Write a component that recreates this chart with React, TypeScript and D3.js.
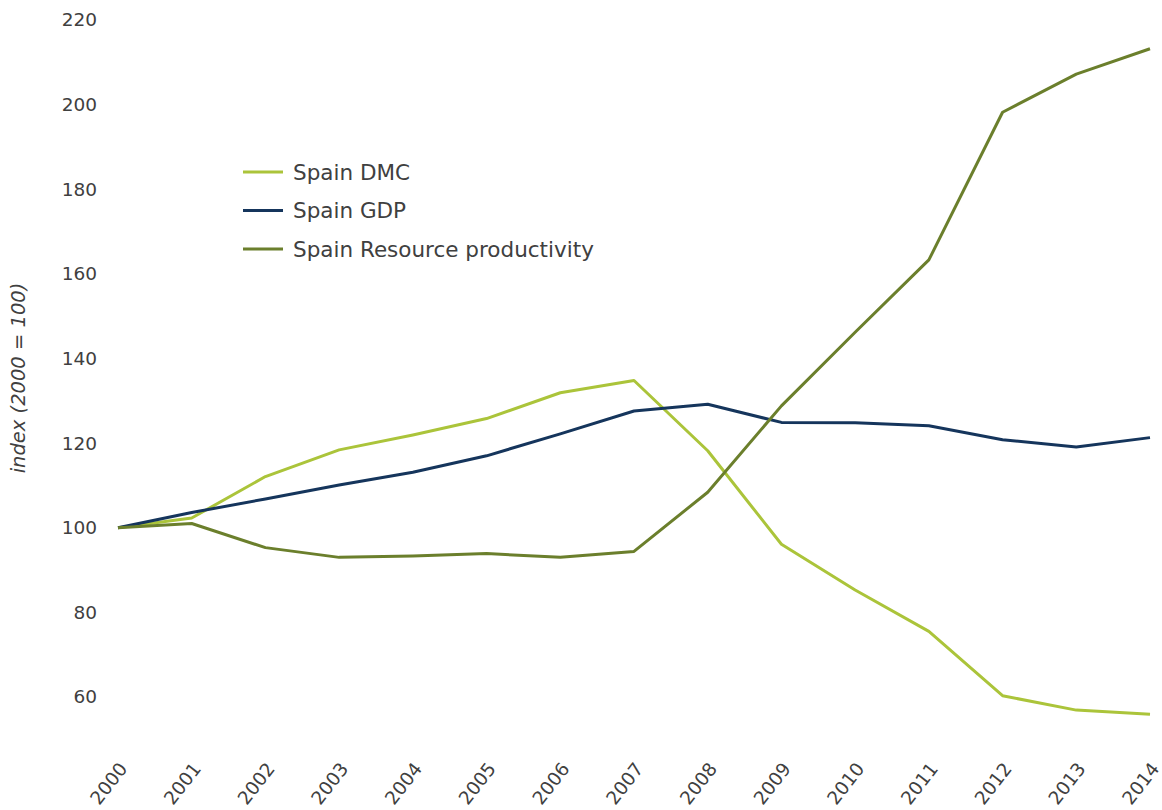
import * as d3 from 'd3';

const years = [2000, 2001, 2002, 2003, 2004, 2005, 2006, 2007, 2008, 2009, 2010, 2011, 2012, 2013, 2014];

const dmc = [100, 102.3, 112.1, 118.4, 121.9, 125.8, 131.9, 134.8, 118.2, 96.1, 85.3, 75.5, 60.3, 56.9, 55.9];
const gdp = [100, 103.6, 106.8, 110.1, 113.1, 117.0, 122.2, 127.6, 129.2, 124.9, 124.8, 124.1, 120.8, 119.1, 121.3];
const resourceProductivity = [100, 101.0, 95.3, 93.0, 93.3, 93.9, 93.0, 94.4, 108.4, 128.8, 146.2, 163.3, 198.2, 207.2, 213.2];

const yTicks = [60, 80, 100, 120, 140, 160, 180, 200, 220];

const seriesNames = ['Spain DMC', 'Spain GDP', 'Spain Resource productivity'];
const seriesColors = ['#abc43a', '#15355c', '#6b7f2c'];

const W = 1162;
const H = 810;

export default function App() {
  const x = d3.scaleLinear().domain([2000, 2014]).range([118, 1150]);
  const y = d3.scaleLinear().domain([60, 220]).range([697, 20]);

  const line = d3.line<number>()
    .x((_, i) => x(years[i]))
    .y(d => y(d));

  const allSeries = [dmc, gdp, resourceProductivity];
  const font = 'Verdana, "DejaVu Sans", sans-serif';

  return (
    <svg width={W} height={H} style={{ position: 'absolute', left: 0, top: 0, background: '#fff' }}
      fontFamily={font}>
      {/* y tick labels */}
      {yTicks.map(t => (
        <text key={t} x={97} y={y(t)} dy="0.35em" textAnchor="end" fontSize={18.5} fill="#404040">{t}</text>
      ))}

      {/* y axis title */}
      <text transform={`translate(25,378) rotate(-90)`} textAnchor="middle" fontSize={19.5}
        fontStyle="italic" fill="#404040">index (2000 = 100)</text>

      {/* x tick labels */}
      {years.map(yr => (
        <text key={yr} transform={`translate(${x(yr)},${761}) rotate(-52)`} textAnchor="end"
          dy="0.7em" fontSize={18.5} fill="#404040">{yr}</text>
      ))}

      {/* lines */}
      {allSeries.map((s, i) => (
        <path key={i} d={line(s) || ''} fill="none" stroke={seriesColors[i]} strokeWidth={3}
          strokeLinejoin="round" />
      ))}

      {/* legend */}
      {seriesNames.map((n, i) => (
        <g key={n} transform={`translate(243,${172 + i * 38.5})`}>
          <line x1={0} x2={40} y1={0} y2={0} stroke={seriesColors[i]} strokeWidth={3} />
          <text x={50} y={0} dy="0.35em" fontSize={21.5} fill="#404040">{n}</text>
        </g>
      ))}
    </svg>
  );
}
